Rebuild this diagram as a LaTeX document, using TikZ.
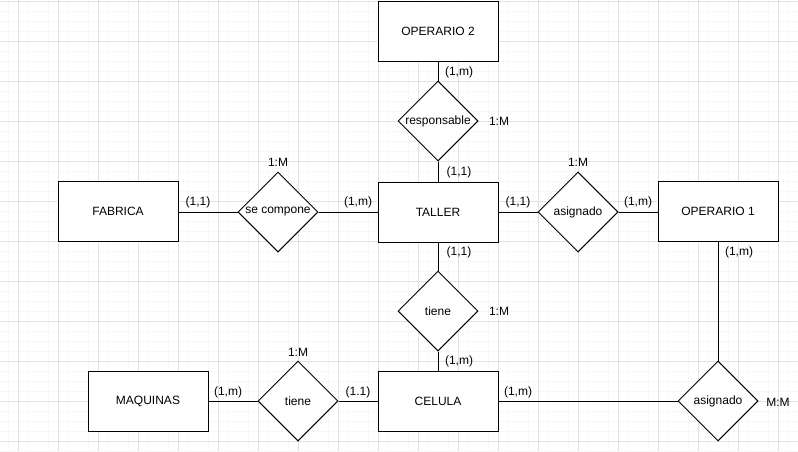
\documentclass[tikz,border=0pt]{standalone}
\usepackage{fontspec}
\setmainfont{Liberation Sans}
\usetikzlibrary{shapes.geometric}
\definecolor{gridmenor}{RGB}{247,247,247}
\definecolor{gridmayor}{RGB}{226,226,226}
\tikzset{
	entidad/.style={draw,rectangle,minimum width=90pt,minimum height=45pt,inner sep=0pt,line width=0.75pt,fill=white},
	relacion/.style={draw,diamond,minimum width=60pt,minimum height=60pt,inner sep=0pt,line width=0.75pt,fill=white},
	card/.style={inner sep=0pt},
	linea/.style={line width=0.75pt}
}

\begin{document}
\begin{tikzpicture}[x=0.75pt,y=-0.75pt,font=\fontsize{9}{11}\selectfont]
	\useasboundingbox (0,0) rectangle (798,451);
	\fill[white] (0,0) rectangle (798,451);
	% cuadricula
	\foreach \i in {8,28,...,798} \draw[gridmenor,line width=0.75pt] (\i,0) -- (\i,451);
	\foreach \j in {11,21,...,451} \draw[gridmenor,line width=0.75pt] (0,\j) -- (798,\j);
	\foreach \i in {18,58,...,798} \draw[gridmayor,line width=0.75pt] (\i,0) -- (\i,451);
	\foreach \j in {1,41,...,451} \draw[gridmayor,line width=0.75pt] (0,\j) -- (798,\j);
	% entidades
	\node[entidad] (op2) at (438,31) {OPERARIO 2};
	\node[entidad] (taller) at (438,212) {TALLER};
	\node[entidad] (fab) at (118,211) {FABRICA};
	\node[entidad] (op1) at (718,211) {OPERARIO 1};
	\node[entidad] (celula) at (438,401) {CELULA};
	\node[entidad] (maq) at (148,401) {MAQUINAS};
	% relaciones
	\node[relacion] (resp) at (438,121) {responsable};
	\node[relacion] (secomp) at (278,212) {se compone};
	\node[relacion] (asig1) at (578,212) {asignado};
	\node[relacion] (tiene1) at (438,311) {tiene};
	\node[relacion] (tiene2) at (298,401) {tiene};
	\node[relacion] (asig2) at (718,401) {asignado};
	% conexiones
	\draw[linea] (op2) -- (resp);
	\draw[linea] (resp) -- (taller);
	\draw[linea] (fab.east |- secomp) -- (secomp);
	\draw[linea] (secomp) -- (taller);
	\draw[linea] (taller) -- (asig1);
	\draw[linea] (asig1) -- (op1.west |- asig1);
	\draw[linea] (taller) -- (tiene1);
	\draw[linea] (tiene1) -- (celula);
	\draw[linea] (maq) -- (tiene2);
	\draw[linea] (tiene2) -- (celula);
	\draw[linea] (celula) -- (asig2);
	\draw[linea] (op1) -- (asig2);
	% cardinalidades
	\node[card] (c1) at (459,72) {(1,m)};
	\node[card] (r1) at (499,121) {1:M};
	\node[card] (c2) at (459,172) {(1,1)};
	\node[card] (r2) at (278,162) {1:M};
	\node[card] (c3) at (198,202) {(1,1)};
	\node[card] (c4) at (358,202) {(1,m)};
	\node[card] (c5) at (518,202) {(1,1)};
	\node[card] (r3) at (578,162) {1:M};
	\node[card] (c6) at (638,202) {(1,m)};
	\node[card] (c7) at (739,252) {(1,m)};
	\node[card] (c8) at (459,252) {(1,1)};
	\node[card] (r4) at (499,311) {1:M};
	\node[card] (c9) at (459,361) {(1,m)};
	\node[card] (r5) at (298,352) {1:M};
	\node[card] (c10) at (228,392) {(1,m)};
	\node[card] (c11) at (358,392) {(1.1)};
	\node[card] (c12) at (518,392) {(1,m)};
	\node[card] (r6) at (778,402) {M:M};
\end{tikzpicture}
\end{document}
